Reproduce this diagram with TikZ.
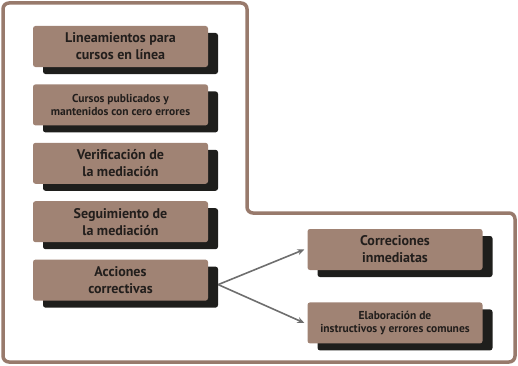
\documentclass[tikz,border=0pt]{standalone}
\usepackage{fontspec}
\setmainfont{PT Sans}
\usepackage{tikz}
\usetikzlibrary{arrows.meta, positioning, shadows}
\definecolor{corCafe}{RGB}{160, 131, 116}
\definecolor{corBorde}{RGB}{152, 122, 108}
\definecolor{corSombra}{RGB}{30, 30, 28}
\definecolor{corFlecha}{RGB}{110, 110, 110}
\definecolor{corTexto}{RGB}{34, 30, 28}

\begin{document}
\begin{tikzpicture}[
    x=1pt, y=1pt,
    node distance=17pt,
    caja/.style={
        fill=corCafe, rounded corners=2.5pt,
        minimum width=175pt, minimum height=41pt,
        align=center, font=\bfseries\fontsize{14}{17}\selectfont,
        text=corTexto, inner sep=2pt,
        drop shadow={shadow xshift=10pt, shadow yshift=-7pt,
            fill=corSombra, opacity=1}
    },
    chica/.style={font=\bfseries\fontsize{11.5}{13.5}\selectfont},
    flecha/.style={-{Stealth[length=7pt, width=6pt]}, line width=1.6pt, color=corFlecha}
]
\useasboundingbox (0,0) rectangle (518,365);

% marco en L
\draw[corBorde, line width=3.5pt, rounded corners=6pt]
    (3,3) -- (3,362) -- (247,362) -- (247,152) -- (515,152) -- (515,3) -- cycle;

\node[caja] (L1) at (120.5,318.5) {Lineamientos para\\cursos en línea};
\node[caja, chica, below=of L1] (L2) {Cursos publicados y\\mantenidos con cero errores};
\node[caja, below=of L2] (L3) {Verificación de\\la mediación};
\node[caja, below=of L3] (L4) {Seguimiento de\\la mediación};
\node[caja, below=of L4] (L5) {Acciones\\correctivas};

\node[caja] (C1) at (395,115.5) {Correciones\\inmediatas};
\node[caja, chica, below=32pt of C1] (C2) {Elaboración de\\instructivos y errores comunes};

\coordinate (J) at ([xshift=10pt, yshift=-4.5pt]L5.east);
\draw[flecha] (J) -- ([xshift=-3pt]C1.west);
\draw[flecha] (J) -- ([xshift=-3pt]C2.west);

\end{tikzpicture}
\end{document}
